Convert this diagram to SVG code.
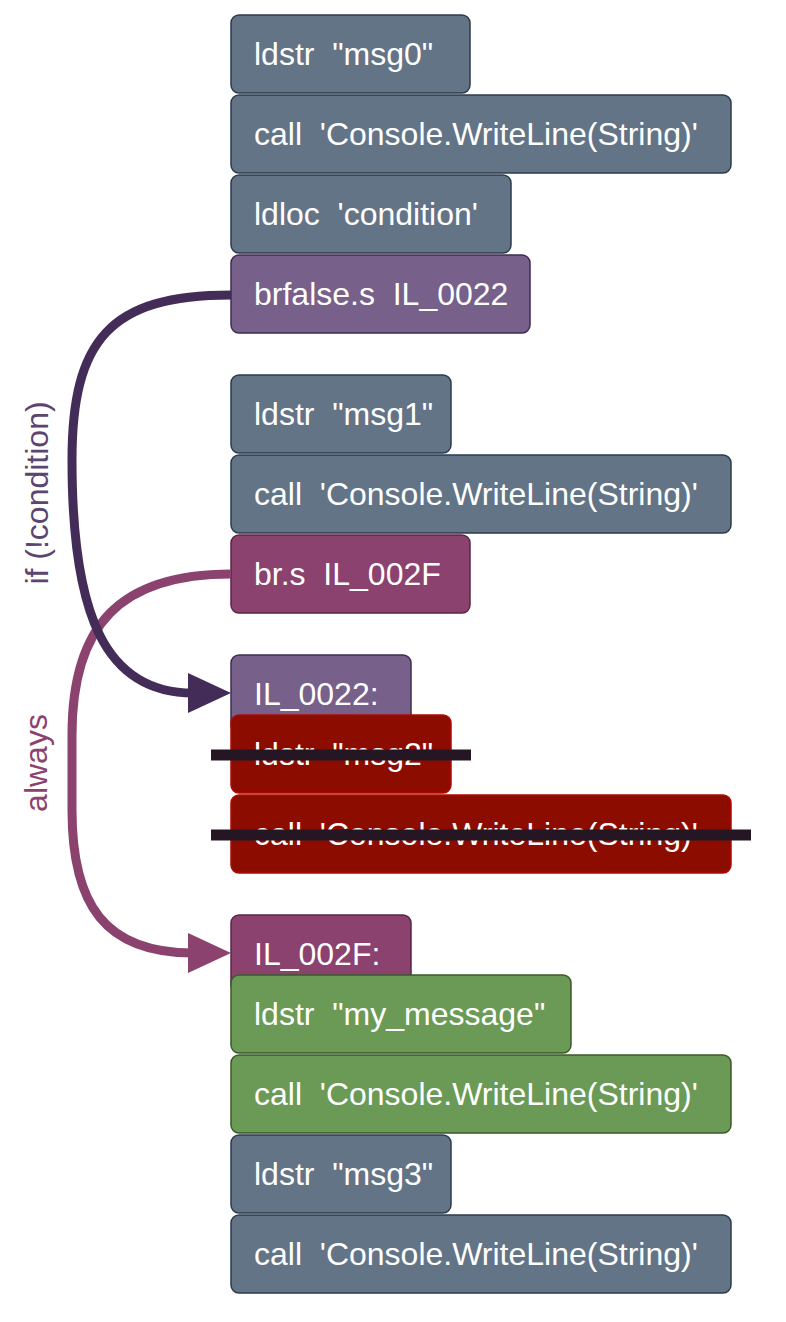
<svg xmlns="http://www.w3.org/2000/svg" width="786" height="1322" viewBox="0 0 786 1322">
<style>
.n rect{stroke-width:1.5}
.t{font-family:"Liberation Sans",Arial,sans-serif;font-size:32px;fill:#fff}
.slate rect{fill:#637487;stroke:#2c3b4d}
.purple rect{fill:#77608a;stroke:#3e2c53}
.mag rect{fill:#8b426e;stroke:#5a2647}
.red rect{fill:#8d0c00;stroke:#b00a00}
.green rect{fill:#6a9a56;stroke:#3a5a2a}
.strike{stroke:#241622;stroke-width:11}
.lbl{font-family:"Liberation Sans",Arial,sans-serif;font-size:32px}
</style>
<defs>
<marker id="ahDark" markerUnits="userSpaceOnUse" markerWidth="44" markerHeight="40" refX="5" refY="20" orient="auto" viewBox="0 0 44 40"><path d="M0,0 L43,20 L0,40 z" fill="#432d58"/></marker>
<marker id="ahPink" markerUnits="userSpaceOnUse" markerWidth="44" markerHeight="40" refX="5" refY="20" orient="auto" viewBox="0 0 44 40"><path d="M0,0 L43,20 L0,40 z" fill="#8b426e"/></marker>
</defs>
<g id="labels">
<text class="lbl" fill="#5b4571" transform="translate(48,493) rotate(-90)" text-anchor="middle" xml:space="preserve">if (!condition)</text>
<text class="lbl" fill="#8b426e" transform="translate(47,763) rotate(-90)" text-anchor="middle">always</text>
</g>
<g id="n1" class="n slate"><rect x="231" y="15" width="239" height="78" rx="8"/><text class="t" x="254" y="65" xml:space="preserve">ldstr  "msg0"</text></g>
<g id="n2" class="n slate"><rect x="231" y="95" width="500" height="78" rx="8"/><text class="t" x="254" y="145" xml:space="preserve">call  'Console.WriteLine(String)'</text></g>
<g id="n3" class="n slate"><rect x="231" y="175" width="280" height="78" rx="8"/><text class="t" x="254" y="225" xml:space="preserve">ldloc  'condition'</text></g>
<g id="n4" class="n purple"><rect x="231" y="255" width="299" height="78" rx="8"/><text class="t" x="254" y="305" xml:space="preserve">brfalse.s  IL_0022</text></g>
<g id="n5" class="n slate"><rect x="231" y="375" width="220" height="78" rx="8"/><text class="t" x="254" y="425" xml:space="preserve">ldstr  "msg1"</text></g>
<g id="n6" class="n slate"><rect x="231" y="455" width="500" height="78" rx="8"/><text class="t" x="254" y="505" xml:space="preserve">call  'Console.WriteLine(String)'</text></g>
<g id="n7" class="n mag"><rect x="231" y="535" width="239" height="78" rx="8"/><text class="t" x="254" y="585" xml:space="preserve">br.s  IL_002F</text></g>
<g id="n8" class="n purple"><rect x="231" y="655" width="180" height="78" rx="8"/><text class="t" x="254" y="705">IL_0022:</text></g>
<g id="n9" class="n red"><rect x="231" y="715" width="220" height="78" rx="8"/><text class="t" x="254" y="765" xml:space="preserve">ldstr  "msg2"</text><line class="strike" x1="211" y1="755" x2="471" y2="755"/></g>
<g id="n10" class="n red"><rect x="231" y="795" width="500" height="78" rx="8"/><text class="t" x="254" y="845" xml:space="preserve">call  'Console.WriteLine(String)'</text><line class="strike" x1="211" y1="835" x2="751" y2="835"/></g>
<g id="n11" class="n mag"><rect x="231" y="915" width="180" height="78" rx="8"/><text class="t" x="254" y="965">IL_002F:</text></g>
<g id="n12" class="n green"><rect x="231" y="975" width="340" height="78" rx="8"/><text class="t" x="254" y="1025" xml:space="preserve">ldstr  "my_message"</text></g>
<g id="n13" class="n green"><rect x="231" y="1055" width="500" height="78" rx="8"/><text class="t" x="254" y="1105" xml:space="preserve">call  'Console.WriteLine(String)'</text></g>
<g id="n14" class="n slate"><rect x="231" y="1135" width="220" height="78" rx="8"/><text class="t" x="254" y="1185" xml:space="preserve">ldstr  "msg3"</text></g>
<g id="n15" class="n slate"><rect x="231" y="1215" width="500" height="78" rx="8"/><text class="t" x="254" y="1265" xml:space="preserve">call  'Console.WriteLine(String)'</text></g>
<g id="connectors" fill="none" stroke-width="9">
<path d="M231,574 C 120,574 72,625 72,735 L72,810 C 72,905 105,953 193,953" stroke="#8b426e" marker-end="url(#ahPink)"/>
<path d="M231,295 C 110,295 72,340 72,460 C 72,615 105,693 193,693" stroke="#432d58" marker-end="url(#ahDark)"/>
</g>
</svg>
